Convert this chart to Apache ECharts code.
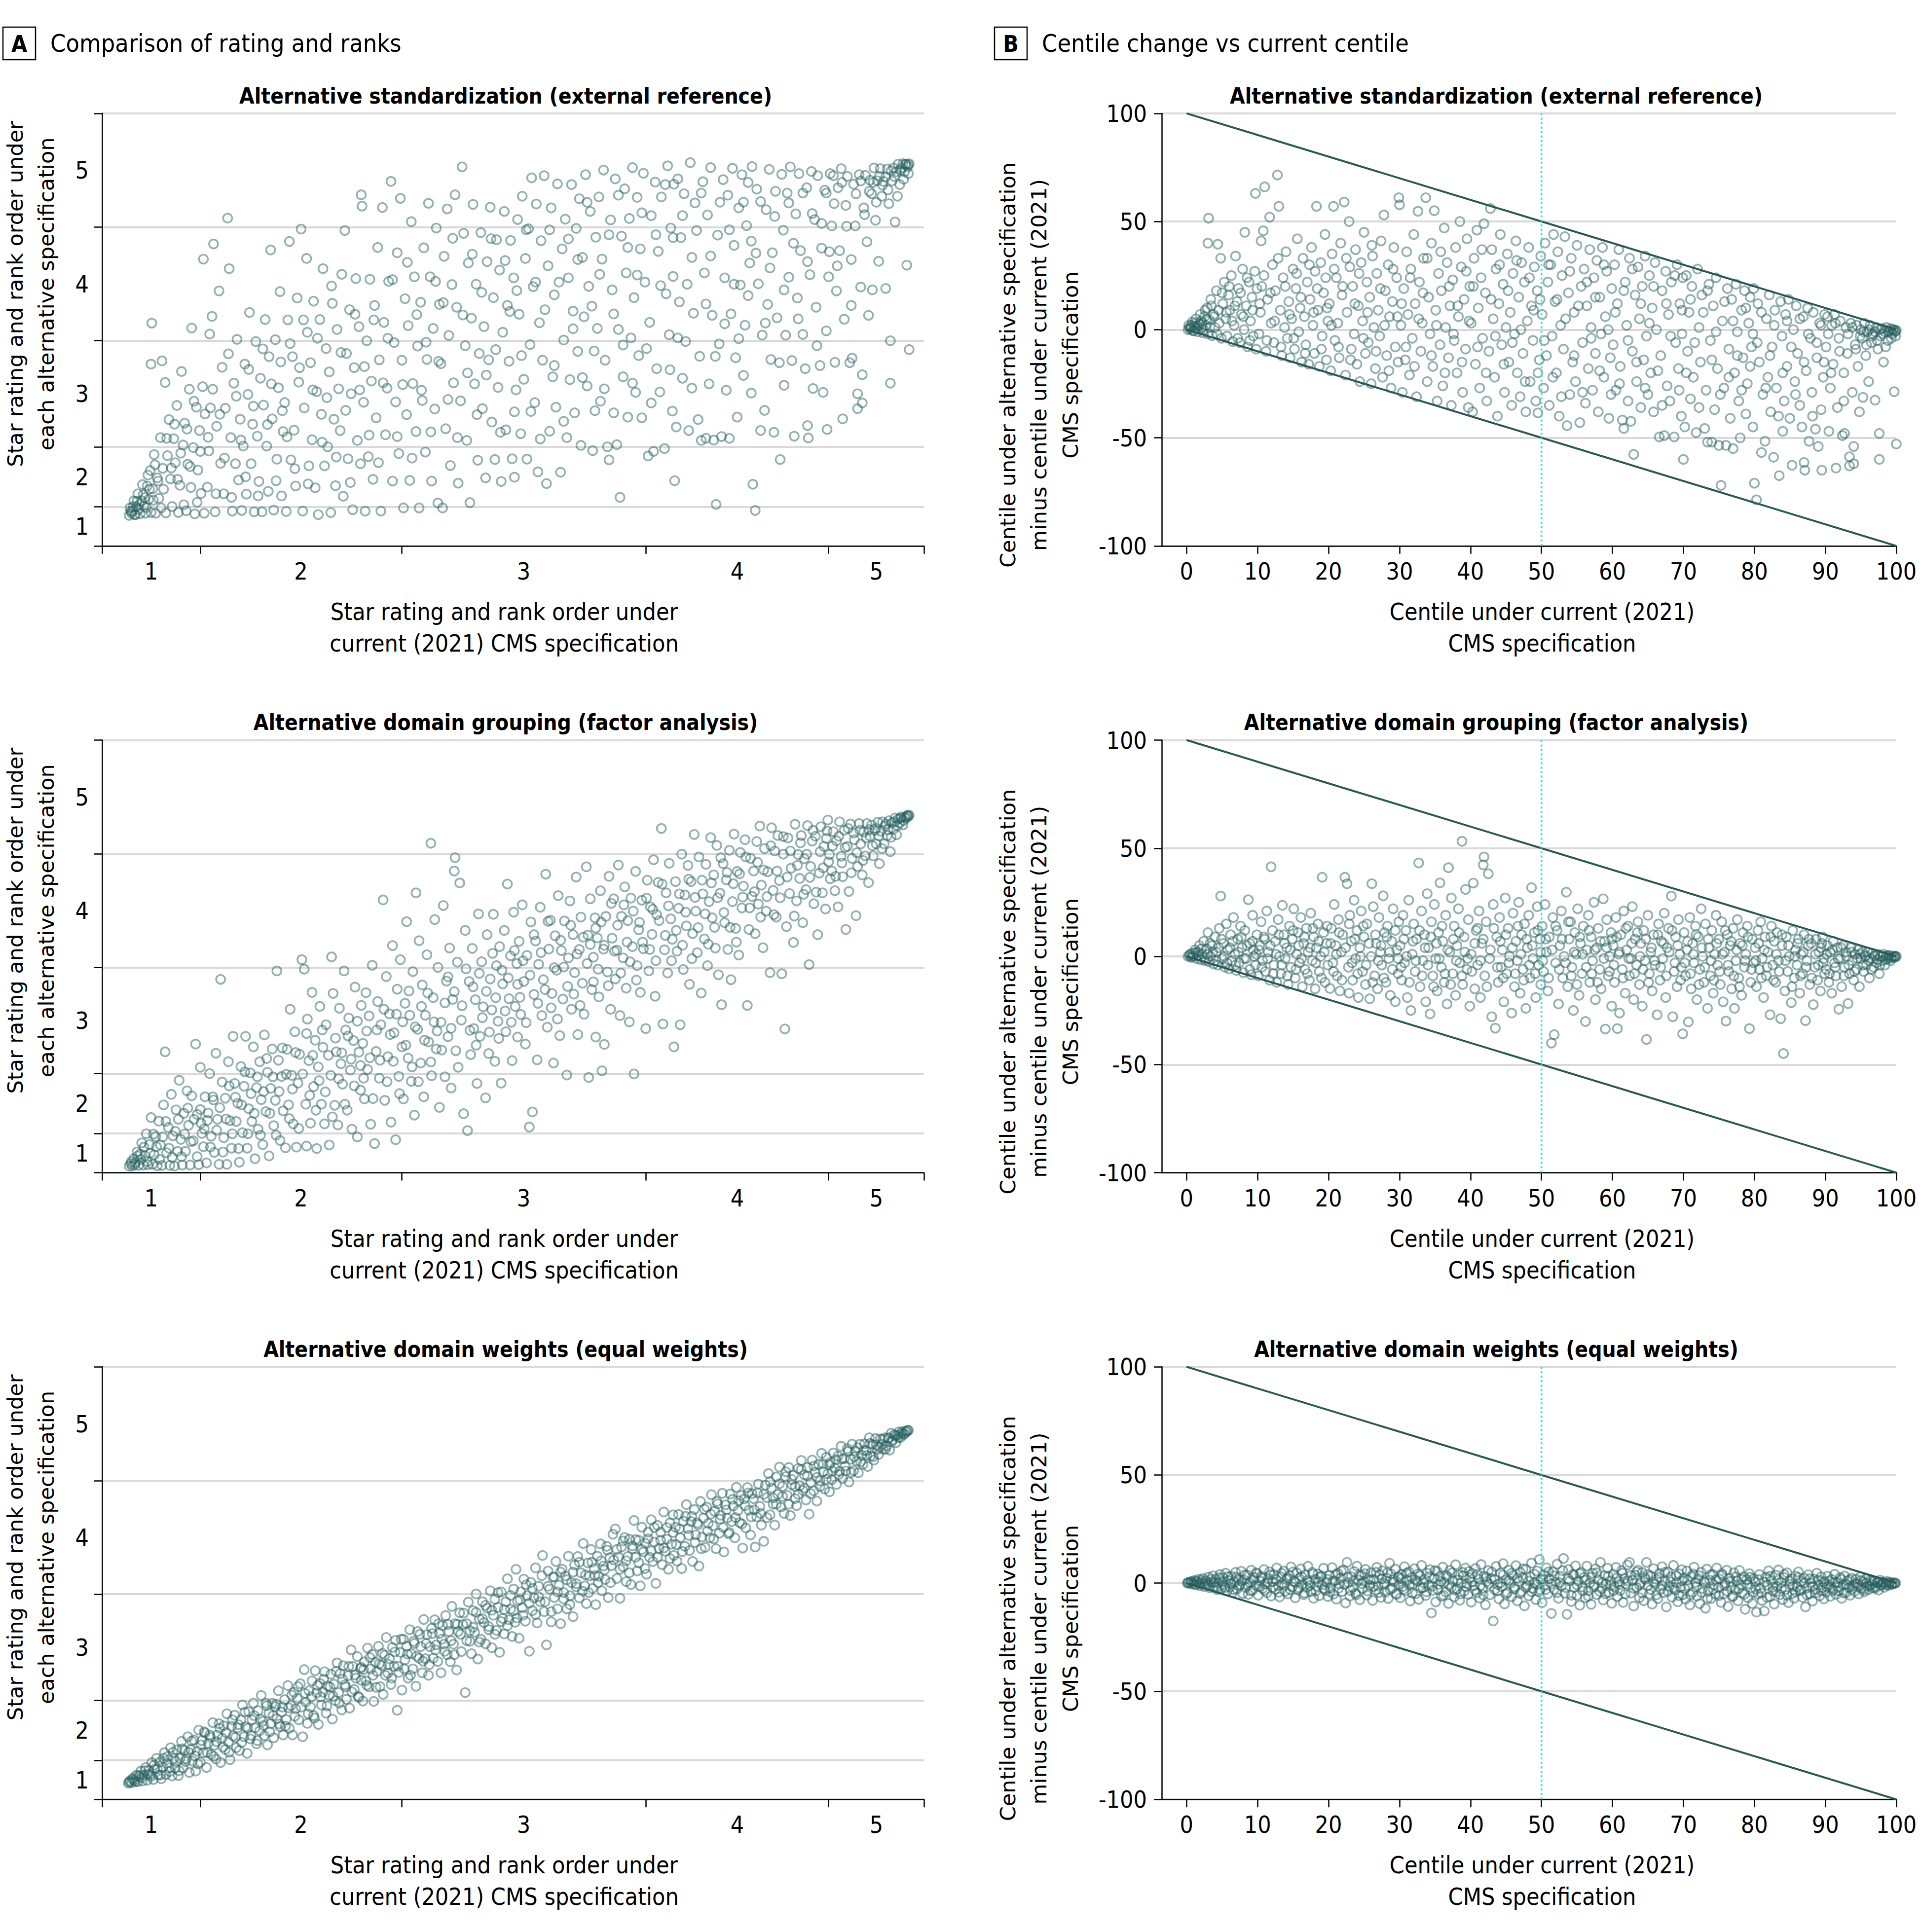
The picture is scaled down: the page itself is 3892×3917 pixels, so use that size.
<!DOCTYPE html>
<html>
<head>
<meta charset="utf-8">
<title>Star rating comparison</title>
<script src="https://cdn.jsdelivr.net/npm/echarts@6/dist/echarts.min.js"></script>
<style>
  html, body { margin: 0; padding: 0; background: #fff; }
  #chart { width: 3892px; height: 3917px; }
</style>
</head>
<body>
<div id="chart"></div>
<script>
// ---- data: each hospital as [centile under current spec, centile change under alternative spec]
var extPoints = [
  [0.2,0],[0.4,1],[0.5,0.3],[0.7,2],[0.9,-0.5],[1.1,1.5],[1.2,3],[1.4,0.5],[1.6,-1],[1.8,2.5],[2,4],[2.1,0.8],[2.3,-1.5],[2.5,6],[2.7,2],[2.9,10],[3,-2],[3.1,51.5],[3.2,4.5],[3,40],[3.4,14],[3.6,-2.8],[3.8,7],[4,1],[4.2,18],[4.4,39.5],[4.6,3],[4.8,33],[4.9,-4],[5.1,12],[5.3,22],[5.5,5],[5.7,-3],[5.9,16],[6.1,9],[6.3,25],[6.5,-5.5],[6.7,2],[6.9,34],[7.1,13],[7.3,19],[7.5,-6],[7.7,7],[7.9,28],[8.1,0],[8.2,45],[8.4,11],[8.6,-8],[8.8,22],[9,4],[9.2,15],[9.4,-3],[9.6,27],[9.8,-9],[9.7,63],
  [0.3,2],[0.6,0.8],[0.8,3.5],[1,-0.6],[1.3,5],[1.5,1.8],[1.9,7],[2.2,3],[2.4,0],[2.6,9],[2.8,4.8],[3.3,1.2],[3.5,11],[3.9,6],[4.3,-2],[4.5,9],[5,17],[5.6,8],[6,20],[6.4,4],[6.8,11],[7.2,-4],[7.6,17],[8,6],[8.5,24],[8.9,-5],[9.3,9],[9.9,19],
  [10.2,-2],[10.5,41],[10.8,45.7],[10.4,8],[10.6,20],[11,66],[11.2,-10],[11.4,14],[11.7,52],[11.9,3],[12.1,30],[12.3,-6],[12.5,18],[12.8,71.5],[13,57],[13.2,9],[13.4,-12],[13.6,24],[13.8,1],[14,36],[14.2,-4],[14.4,13],[14.6,-13],[14.8,5],[15,28],[15.2,-9],[15.4,19],[15.6,42],[15.8,-1],[16,10],[16.2,-15],[16.4,33],[16.6,6],[16.8,-7],[17,22],[17.2,-16],[17.4,14],[17.6,38],[17.8,2],[18,-11],[18.3,57],[18.1,27],[18.5,9],[18.7,-17],[18.9,31],[19.1,-3],[19.3,17],[19.5,44],[19.7,-14],[19.9,4],
  [10.3,12],[10.9,25],[11.3,-5],[11.8,17],[12.4,4],[12.9,33],[13.3,-8],[13.9,20],[14.5,7],[15.1,-4],[15.5,26],[16.1,15],[16.7,-11],[17.3,30],[17.9,8],[18.4,19],[19,-9],[19.6,24],[19.8,10],
  [20.1,12],[20.3,-19],[20.5,35],[20.7,57],[20.9,-5],[21.1,24],[21.3,3],[21.5,-13],[21.7,40],[21.9,16],[22.2,59],[22.4,-21],[22.6,8],[22.9,50],[23,29],[23.2,-9],[23.4,20],[23.6,-2],[23.8,37],[24,-16],[24.2,11],[24.4,-24],[24.6,31],[24.8,4],[25,45],[25.2,-11],[25.4,22],[25.6,-6],[25.8,15],[26,-25],[26.2,34],[26.4,1],[26.6,-18],[26.8,26],[27,9],[27.2,-3],[27.4,41],[27.8,53],[27.6,-22],[28,18],[28.2,-12],[28.4,30],[28.6,6],[28.8,-27],[29,13],[29.2,38],[29.4,-8],[29.6,24],[29.8,-15],[29.9,61],
  [20.4,2],[20.8,28],[21.4,-8],[22,20],[22.5,33],[23.1,-14],[23.7,12],[24.3,26],[24.9,-4],[25.5,8],[26.1,39],[26.7,-10],[27.3,19],[27.9,2],[28.5,-19],[29.1,28],[29.7,6],
  [30,57.7],[30.2,2],[30.4,-29],[30.6,19],[30.8,-14],[31,36],[31.2,7],[31.4,-21],[31.6,28],[31.8,-4],[32,44],[32.2,12],[32.4,-31],[32.6,54.7],[32.8,22],[33,-10],[33.2,3],[33.4,33],[33.7,61],[33.9,-24],[34.1,15],[34.3,-2],[34.5,40],[34.7,-17],[34.9,55],[35.1,9],[35.3,-33],[35.5,26],[35.7,-7],[35.9,18],[36.1,-26],[36.3,47],[36.5,1],[36.7,31],[36.9,-13],[37.1,11],[37.3,-35],[37.5,23],[37.7,-5],[37.9,38],[38.1,-20],[38.5,50],[38.3,6],[38.7,29],[38.9,-29],[39.1,14],[39.3,-9],[39.5,42],[39.7,-36],[39.9,20],
  [30.3,12],[30.9,-8],[31.5,24],[32.1,-17],[32.7,5],[33.3,17],[33.9,33],[34.5,-12],[35.2,2],[35.8,36],[36.4,-20],[37,20],[37.6,-2],[38.2,11],[38.8,-15],[39.4,27],[39.8,4],
  [40.1,3],[40.3,-38],[40.5,33],[40.7,-16],[40.9,46],[41.1,10],[41.3,-27],[41.5,24],[41.7,-4],[41.9,49],[42.1,17],[42.3,-33],[42.8,56],[42.6,-10],[43,37],[43.2,5],[43.4,-22],[43.6,28],[43.8,-40],[44,12],[44.2,44],[44.4,-7],[44.6,21],[44.8,-29],[45,1],[45.2,35],[45.4,-15],[45.6,8],[45.8,-35],[46,26],[46.2,-2],[46.4,41],[46.6,-20],[46.8,15],[47,-31],[47.2,31],[47.4,-11],[47.6,22],[47.8,-38],[48,4],[48.2,38],[48.4,-24],[48.6,11],[48.8,-5],[49,29],[49.2,-33],[49.4,18],[49.5,-38.5],[49.7,-14],[49.9,34],
  [40.4,20],[41,-8],[41.6,37],[42.2,-20],[42.9,14],[43.5,-3],[44.1,30],[44.7,-16],[45.3,18],[45.9,-6],[46.5,32],[47.1,0],[47.7,-24],[48.3,24],[48.9,9],[49.5,-20],[49.8,14],
  [50.1,7],[50.3,-27],[50.5,40],[50.7,-12],[50.9,22],[51.1,-35],[51.3,30],[51.5,-3],[51.7,44],[51.9,13],[52.1,-20],[52.3,36],[52.5,-40],[52.7,2],[52.9,25],[53.1,-9],[53.3,43],[53.6,-44.4],[53.8,17],[54,-30],[54.2,33],[54.4,-15],[54.6,8],[54.8,-24],[55,39],[55.4,-43],[55.6,20],[55.8,-6],[56,28],[56.2,-34],[56.4,11],[56.6,-18],[56.8,37],[57,1],[57.2,-28],[57.4,24],[57.6,-11],[57.8,32],[58,-38],[58.2,15],[58.4,-2],[58.6,38],[58.8,-22],[59,6],[59.2,27],[59.5,-41],[59.7,-13],[59.9,19],
  [50.4,-5],[51,30],[51.6,-22],[52.2,14],[52.8,-31],[53.4,5],[54,27],[54.6,-12],[55.2,11],[55.8,-29],[56.4,22],[57,-4],[57.6,15],[58.2,-19],[58.8,30],[59.4,0],[59.8,-30],
  [60.1,-7],[60.3,30],[60.5,-28],[60.7,12],[60.9,37],[61.1,-17],[61.4,-41.8],[61.6,-45.7],[61.8,22],[62,2],[62.2,-33],[62.4,33],[62.6,-42.4],[62.8,-10],[63,-57.7],[63.2,16],[63.4,-24],[63.6,29],[63.8,5],[64,-36],[64.2,20],[64.4,-14],[64.6,34],[64.8,-3],[65,-30],[65.2,25],[65.4,-20],[65.6,10],[65.8,-38],[66,31],[66.2,0],[66.6,-49.6],[66.8,-12],[67,18],[67.3,-49],[67.5,27],[67.7,-26],[67.9,7],[68.1,-33],[68.3,22],[68.7,-49.6],[68.9,-6],[69.1,30],[69.3,-18],[69.5,12],[69.7,-40],[69.9,24],[69.8,-2],
  [60.4,8],[61,-25],[61.6,18],[62.2,-5],[62.8,28],[63.4,-15],[64,12],[64.6,-27],[65.2,3],[65.8,20],[66.4,-19],[67,-35],[67.6,12],[68.2,-3],[68.8,25],[69.4,-28],[69.8,9],
  [70.2,-45],[70,-60],[70.4,25],[70.6,-10],[70.8,8],[71,-32],[71.2,20],[71.4,-22],[71.8,-47.6],[72,28],[72.2,1],[72.4,-15],[72.6,16],[73,-45.7],[73.2,-28],[73.4,-52],[73.6,21],[73.8,-5],[74,-52],[74.2,11],[74.4,-37],[74.6,24],[74.8,-18],[75,-53.5],[75.3,-72],[75.5,4],[75.7,-27],[76,-53.5],[76.2,19],[76.4,-9],[76.6,-41],[76.8,14],[77,-55],[77.2,-20],[77.4,21],[77.6,-1],[77.8,-33],[78,-50],[78.2,9],[78.4,-13],[78.6,18],[78.8,-39],[79,-25],[79.2,3],[79.4,15],[79.6,-8],[79.8,-45],[79.9,19],
  [70.4,-20],[71,14],[71.6,-6],[72.2,-36],[72.8,8],[73.4,18],[74,-14],[74.6,-1],[75.2,-30],[75.8,13],[76.4,-22],[77,4],[77.6,-12],[78.2,-28],[78.8,10],[79.4,-17],[79.8,-2],
  [80,-71],[80.3,-78.7],[80.5,12],[80.7,-15],[81,-56.8],[81.2,-30],[81.5,-51.6],[81.7,5],[81.9,-22],[82.1,16],[82.3,-38],[82.5,-8],[82.7,-59],[82.9,9],[83.1,-27],[83.5,-67.5],[83.7,13],[83.9,-3],[84,-47],[84.2,-33],[84.4,7],[84.6,-17],[84.8,14],[85,-41],[85.3,-62.7],[85.5,0],[85.7,-24],[85.9,11],[86.1,-11],[86.4,-35],[86.7,-45],[86.9,6],[87,-61.4],[87.1,-65],[87.3,-19],[87.5,10],[87.7,-51.6],[87.9,-4],[88.1,-29],[88.3,8],[88.6,-46],[88.8,-13],[89,-54],[89.2,3],[89.5,-65],[89.7,-22],[89.9,7],[89.4,-37],
  [80.4,-6],[81,8],[81.6,-27],[82.2,-12],[82.8,2],[83.4,-40],[84,-20],[84.6,4],[85.2,-8],[85.8,-30],[86.4,5],[87,-15],[87.6,-2],[88.2,-40],[88.8,-6],[89.4,2],[89.8,-15],
  [90.1,-8],[90.3,6],[90.5,-47],[90.7,-27],[90.9,2],[91.1,-16],[91.3,7],[91.5,-64],[91.7,-36],[91.9,-4],[92.1,4],[92.4,-49],[92.7,-48],[92.6,-20],[92.9,1],[93.1,-11],[93.4,-63],[93.4,-58.8],[93.6,3],[93.8,-29],[94,-62],[94,-54],[94.2,-7],[94.4,2],[94.6,-17],[94.8,-38],[95,0],[95.2,-4],[95.3,-31.3],[95.5,3],[95.7,-12],[95.9,-1],[96.1,-24],[96.3,2],[96.5,-6],[96.7,-2],[97,-32.6],[97.2,1],[97.4,-9],[97.6,-60],[97.6,-48],[97.8,-3],[98,0.5],[98.2,-15],[98.4,-1],[98.6,1],[98.8,-5],[99,-0.5],[99.2,0.5],[99.4,-2],[99.6,0],[99.7,-28.7],[99.8,-1],[100,-0.3],[100,-52.9],[99.9,-3],
  [90.4,-2],[90.8,-20],[91.4,3],[92,-10],[92.6,-33],[93.2,-2],[93.8,1],[94.3,-9],[94.9,-3],[95.4,-1],[95.8,-7],[96.2,0],[96.6,-3],[97,-1],[97.3,-5],[97.7,0],[98.1,-2],[98.5,-8],[98.9,-1],[99.3,-4],[99.5,0],[99.9,-0.5]
];

var factPoints = [
  [0.2,0],[0.4,0.5],[0.6,-0.4],[0.8,1.5],[1,0.2],[1.2,3],[1.4,-1],[1.6,2],[1.8,5],[2,-1.5],[2.2,1],[2.4,7],[2.6,-2],[2.8,3.5],[3,11],[3.2,-2.5],[3.4,0],[3.6,5],[3.8,-3.5],[4,9],[4.2,2],[4.4,-4],[4.6,13],[4.8,27.9],[5,-1],[5.2,6],[5.4,-5],[5.6,15],[5.8,3],[6,-5.8],[6.2,10],[6.4,-2],[6.6,18],[6.8,1],[7,-6.5],[7.2,8],[7.4,-3],[7.6,14],[7.8,4],[8,-7.5],[8.2,12],[8.4,-1],[8.7,26.2],[8.9,6],[9.1,-8.5],[9.3,19],[9.5,0],[9.7,-4],[9.9,10],[9.4,3],
  [0.5,1],[0.9,-0.3],[1.3,1.8],[1.7,0.4],[2.1,3.5],[2.5,-1],[2.9,1],[3.3,6],[3.7,2],[4.1,-2],[4.5,4],[4.9,8],[5.3,0],[5.7,-3],[6.1,4],[6.5,7],[6.9,-4],[7.3,2],[7.7,9],[8.1,-1],[8.5,5],[8.9,-6],[9.3,7],[9.8,1],
  [10.1,-9],[10.3,5],[10.5,16],[10.7,-2],[10.9,9],[11.1,-7],[11.3,21],[11.5,2],[11.7,-11],[11.9,41.4],[12.1,12],[12.3,-4],[12.5,7],[12.7,-12],[12.9,17],[13.1,0],[13.5,23.6],[13.3,-8],[13.7,10],[13.9,-1],[14.1,4],[14.3,-13],[14.5,14],[14.7,-5],[14.9,8],[15.1,22],[15.3,-10],[15.5,1],[15.7,11],[15.9,-3],[16.1,18],[16.3,-14],[16.5,6],[16.7,-6],[16.9,13],[17.1,2],[17.3,-11],[17.5,20],[17.7,-2],[17.9,9],[18.1,-15],[18.3,4],[18.5,15],[18.7,-7],[18.9,0],[19.1,36.6],[19.3,11],[19.5,-12],[19.7,6],[19.9,-4],
  [10.2,3],[10.6,-5],[11,8],[11.4,-1],[11.8,5],[12.2,-8],[12.6,1],[13,10],[13.4,-4],[13.8,6],[14.2,-9],[14.6,3],[15,12],[15.4,-6],[15.8,5],[16.2,-1],[16.6,9],[17,-8],[17.4,4],[17.8,13],[18.2,-3],[18.6,7],[19,-10],[19.4,2],[19.8,14],
  [20.2,-14.8],[20.4,13],[20.6,-3],[20.8,24],[21,5],[21.2,-9],[21.4,17],[21.6,-16],[21.8,2],[22,10],[22.3,36.6],[22.6,33.6],[22.9,-17],[22.8,-5],[23,19],[23.2,7],[23.4,-11],[23.6,26],[23.8,-1],[24,12],[24.2,-19],[24.4,4],[24.6,21],[24.8,-7],[25,9],[25.2,-13],[25.4,15],[25.8,-19.6],[26.1,33.6],[26,0],[26.3,23],[26.5,-9],[26.7,6],[26.9,-15],[27.1,18],[27.3,2],[27.5,-4],[27.7,28],[27.9,11],[28.1,-12],[28.3,14],[28.5,-1],[28.7,-18],[28.9,7],[29.1,22],[29.4,-20.9],[29.6,3],[29.8,-8],[29.9,16],
  [20.3,6],[20.7,-7],[21.1,1],[21.5,11],[21.9,-11],[22.4,4],[22.9,15],[23.3,-3],[23.7,8],[24.1,-8],[24.5,0],[24.9,14],[25.3,-4],[25.7,6],[26.2,-12],[26.6,10],[27,-2],[27.4,5],[27.8,-10],[28.2,9],[28.6,2],[29,-6],[29.4,12],[29.8,-1],
  [30.1,5],[30.3,-11],[30.5,19],[30.7,-3],[30.9,12],[31.1,-19],[31.3,26],[31.6,-25],[31.8,1],[32,15],[32.2,-7],[32.4,8],[32.7,43.2],[32.9,-14],[33.1,21],[33.3,-2],[33.5,10],[33.7,-21],[33.9,29],[34.1,4],[34.3,-26.6],[34.5,16],[34.7,-9],[34.9,24],[35.1,-1],[35.3,-16],[35.5,11],[35.7,34],[35.9,-5],[36.1,7],[36.3,-12],[36.5,19],[36.9,41],[36.7,-22],[37.1,2],[37.3,27],[37.5,-8],[37.7,14],[37.9,-18],[38.1,5],[38.3,22],[38.5,-3],[38.8,53.2],[38.9,-13],[39.1,9],[39.3,31],[39.5,-6],[39.7,17],[39.9,-23],
  [30.2,-5],[30.6,8],[31,0],[31.4,-12],[31.9,7],[32.3,-2],[32.8,12],[33.2,-9],[33.6,4],[34,-4],[34.4,9],[34.8,-14],[35.2,6],[35.6,-1],[36,14],[36.4,-8],[36.8,3],[37.2,-13],[37.6,8],[38,-2],[38.4,11],[38.8,-9],[39.2,2],[39.6,-1],
  [40.1,1],[40.4,33.9],[40.6,-15],[40.8,12],[41,-4],[41.2,21],[41.4,-19],[41.6,6],[41.9,46],[41.8,42.3],[42,-9],[42.2,16],[42.5,38.2],[42.7,-1],[43,-27.9],[43.2,24],[43.5,-33.2],[43.7,9],[43.9,-12],[44.1,18],[44.3,-5],[44.5,3],[44.7,-21],[44.9,27],[45.1,-8],[45.3,13],[45.5,0],[45.8,-26.2],[46,20],[46.2,-14],[46.4,7],[46.6,-2],[46.8,25],[47,-17],[47.2,10],[47.4,-6],[47.6,15],[47.8,-24],[48,4],[48.2,19],[48.4,-10],[48.6,31.8],[48.8,-1],[49,11],[49.2,-19],[49.4,23],[49.6,-4],[49.8,8],[49.9,-13],
  [40.2,-7],[40.6,6],[41,13],[41.4,-2],[41.8,8],[42.3,-14],[42.8,3],[43.3,13],[43.8,-5],[44.2,7],[44.6,-10],[45,10],[45.4,-3],[45.9,4],[46.3,-8],[46.7,14],[47.1,1],[47.5,-11],[47.9,8],[48.3,-4],[48.7,5],[49.1,-8],[49.5,12],[49.9,2],
  [50.1,14],[50.3,-7],[50.5,24],[50.7,2],[50.9,-16],[51.1,9],[51.4,-40.1],[51.8,-36.2],[51.6,18],[52,-3],[52.2,12],[52.4,-22],[52.6,5],[52.8,21],[53,-10],[53.2,0],[53.5,29.7],[53.7,-14],[53.9,8],[54.1,16],[54.3,-5],[54.5,-25],[54.7,11],[54.9,1],[55.1,22],[55.3,-18],[55.5,6],[55.7,-8],[55.9,14],[56.2,-30.1],[56.4,3],[56.6,19],[56.8,-12],[57,9],[57.2,-2],[57.4,25],[57.6,-20],[57.8,4],[58,13],[58.2,-6],[58.4,-15],[58.7,26.6],[58.9,7],[59,-33.6],[59.2,17],[59.4,-9],[59.6,0],[59.8,11],[59.9,-23],
  [50.2,-2],[50.6,8],[51,-10],[51.5,3],[52,14],[52.5,-6],[52.9,8],[53.4,-3],[53.8,16],[54.2,-9],[54.6,2],[55,-13],[55.4,9],[55.8,1],[56.3,-5],[56.7,12],[57.1,-8],[57.5,3],[57.9,-12],[58.3,7],[58.8,-1],[59.2,4],[59.6,-7],[59.9,8],
  [60.1,5],[60.3,-12],[60.5,18],[60.7,-33.4],[60.9,1],[61,-26.2],[61.2,10],[61.4,-6],[61.6,21],[61.8,-17],[62,3],[62.2,14],[62.4,-9],[62.6,-1],[62.8,23],[63,-20],[63.2,8],[63.4,-4],[63.6,16],[63.8,-13],[64,6],[64.2,-23],[64.4,12],[64.8,-38.4],[64.6,-2],[65,19],[65.2,-8],[65.4,2],[65.6,-16],[65.8,10],[66,-4],[66.3,-27],[66.5,15],[66.7,-11],[66.9,7],[67.1,-1],[67.3,20],[67.5,-19],[67.7,4],[67.9,13],[68.3,27.9],[68.5,-27.9],[68.7,-7],[68.9,9],[69.1,-14],[69.3,17],[69.5,1],[69.9,-35.8],[69.7,-5],
  [60.2,-4],[60.6,9],[61,2],[61.5,-10],[61.9,13],[62.3,-1],[62.7,6],[63.1,-8],[63.5,11],[63.9,0],[64.3,-6],[64.7,8],[65.1,-12],[65.5,4],[65.9,-2],[66.4,10],[66.8,-5],[67.2,6],[67.6,-9],[68,2],[68.4,12],[68.8,-3],[69.2,5],[69.6,-11],
  [70.1,11],[70.3,-9],[70.7,-30.3],[70.5,3],[70.9,18],[71.1,-15],[71.3,6],[71.5,-3],[71.7,14],[71.9,-20],[72.1,9],[72.3,-6],[72.5,22],[72.7,0],[72.9,-12],[73.1,15],[73.4,-24],[73.6,4],[73.8,-9],[74,12],[74.2,-17],[74.4,1],[74.6,19],[74.8,-4],[75,8],[75.2,-13],[75.4,16],[75.6,-21],[76,-29.9],[75.8,2],[76.2,10],[76.4,-7],[76.6,5],[76.8,-15],[77.2,-24],[77,13],[77.4,-2],[77.6,17],[77.8,-10],[78,6],[78.2,-18],[78.4,11],[78.6,-5],[78.8,1],[79,14],[79.3,-33.4],[79.5,-12],[79.7,8],[79.9,-3],
  [70.2,-3],[70.6,7],[71,-8],[71.4,1],[71.8,10],[72.2,-13],[72.6,4],[73,-5],[73.5,8],[73.9,-2],[74.3,-11],[74.7,6],[75.1,-7],[75.5,1],[75.9,12],[76.3,-4],[76.7,7],[77.1,-9],[77.5,3],[77.9,-14],[78.3,5],[78.7,-2],[79.1,9],[79.6,-6],
  [80.1,4],[80.3,-14],[80.5,12],[80.7,-6],[80.9,16],[81.1,-1],[81.3,-19],[81.5,9],[81.7,-9],[81.9,2],[82.2,-27],[82.4,14],[82.6,-4],[82.8,7],[83,-12],[83.2,11],[83.4,-2],[83.7,-28.8],[83.9,5],[84.1,-44.9],[84.3,-16],[84.5,9],[84.7,-7],[84.9,0],[85.2,-21.4],[85.4,12],[85.6,-10],[85.8,3],[86,-4],[86.2,8],[86.4,-17],[86.6,1],[86.8,-8],[87,10],[87.2,-29.7],[87.4,-2],[87.6,5],[87.8,-13],[88,6],[88.3,-22.3],[88.5,-5],[88.7,8],[88.9,-11],[89.1,2],[89.3,-16],[89.5,6],[89.7,-3],[89.9,-8],[89.6,9],
  [80.2,-2],[80.6,6],[81,-10],[81.4,3],[81.8,-5],[82.3,9],[82.7,-11],[83.1,1],[83.5,-7],[83.9,10],[84.4,-2],[84.8,5],[85.3,-14],[85.7,0],[86.1,6],[86.5,-9],[86.9,2],[87.3,-5],[87.7,8],[88.1,-10],[88.6,1],[89,-4],[89.4,4],[89.8,-1],
  [90.1,-6],[90.3,5],[90.5,-12],[90.7,2],[90.9,-17],[91.1,7],[91.3,-3],[91.5,-9],[91.7,4],[91.9,-24.4],[92.1,-1],[92.3,-14],[92.5,5],[92.7,-5],[92.9,2],[93.2,-21.8],[93.4,-8],[93.6,4],[93.8,-2],[94,-11],[94.2,1],[94.4,-6],[94.6,3],[94.8,-14],[95,-1],[95.2,2],[95.4,-7],[95.6,0],[95.8,-4],[96,2],[96.2,-10],[96.4,-1],[96.6,1.5],[96.8,-5],[97,0.5],[97.2,-3],[97.4,1],[97.6,-8],[97.8,0],[98,-2],[98.2,1],[98.4,-4],[98.6,0.3],[98.8,-1],[99,0.5],[99.2,-2],[99.4,0],[99.6,-0.5],[99.8,0.2],[100,0],
  [90.2,1],[90.6,-8],[91,3],[91.4,-5],[91.8,-1],[92.2,4],[92.6,-9],[93,0],[93.3,-4],[93.7,2],[94.1,-7],[94.5,-1],[94.9,1],[95.3,-4],[95.7,0.5],[96.1,-2],[96.5,-6],[96.9,0],[97.3,-1.5],[97.7,-4],[98.1,0],[98.5,-1.5],[98.9,0.2],[99.3,-0.8],[99.7,0],[99.9,-0.3]
];

var equalPoints = [
  [0.1,0],[0.3,0.4],[0.5,-0.3],[0.7,0.8],[0.9,0],[1.1,1.2],[1.3,-0.8],[1.5,0.5],[1.7,1.8],[1.9,-1.2],[2.1,0.3],[2.3,2.2],[2.5,-1.6],[2.7,1],[2.9,-0.4],[3.1,2.8],[3.3,-2.2],[3.5,0.6],[3.7,3.4],[3.9,-1.5],[4.1,1.9],[4.3,-3],[4.5,0],[4.7,4],[4.9,-2.4],[5.1,2.5],[5.3,-0.9],[5.5,4.6],[5.7,-3.6],[5.9,1.2],[6.1,-1.8],[6.3,3.2],[6.5,-4.3],[6.7,0.4],[6.9,5],[7.1,-2.7],[7.3,2],[7.5,-0.5],[7.7,5.5],[7.9,-4.8],[8.1,1.5],[8.3,-2],[8.5,3.8],[8.7,-5.2],[8.9,0.2],[9.1,6],[9.3,-3.3],[9.5,2.6],[9.7,-1],[9.9,4.4],
  [0.2,0.2],[0.6,0.5],[1,-0.5],[1.4,0.9],[1.8,-0.2],[2.2,1.4],[2.6,0],[3,-1],[3.4,1.8],[3.8,0.3],[4.2,-1.8],[4.6,2.5],[5,0.7],[5.4,-2],[5.8,3],[6.2,0],[6.6,-3],[7,2.8],[7.4,-1.2],[7.8,1],[8.2,3.8],[8.6,-0.8],[9,-3.5],[9.4,1.5],[9.8,4.8],
  [10.1,-5.6],[10.3,1],[10.5,3.2],[10.7,-2.5],[10.9,6.3],[11.1,-0.3],[11.3,-4.4],[11.5,2.2],[11.7,5.2],[11.9,-6],[12.1,0.7],[12.3,4],[12.5,-2.9],[12.7,7],[12.9,-1.2],[13.1,-6.4],[13.3,2.9],[13.5,-0.1],[13.7,5.6],[13.9,-3.8],[14.1,1.6],[14.3,-5],[14.5,3.5],[14.7,7.5],[14.9,-1.7],[15.1,0.9],[15.3,-6.8],[15.5,4.8],[15.7,-3.1],[15.9,2.1],[16.1,6.6],[16.3,-0.6],[16.5,-5.3],[16.7,3.9],[16.9,-2],[17.1,7.8],[17.3,0.3],[17.5,-4],[17.7,5],[17.9,-7],[18.1,1.8],[18.3,-1.4],[18.5,4.2],[18.7,-5.8],[18.9,2.8],[19.1,-0.8],[19.3,6.9],[19.5,-3.4],[19.7,0.5],[19.9,-6.2],
  [10.2,-1.5],[10.6,2.5],[11,-3.3],[11.4,0.4],[11.8,3.8],[12.2,-1.9],[12.6,1.8],[13,-4.2],[13.4,4.6],[13.8,-0.8],[14.2,2.4],[14.6,-3],[15,5.2],[15.4,0.2],[15.8,-2.2],[16.2,3],[16.6,-4.5],[17,1.2],[17.4,-1],[17.8,4.2],[18.2,-3.6],[18.6,0.6],[19,3.4],[19.4,-2.6],[19.8,1.8],
  [20.1,3.6],[20.3,-2.2],[20.5,7.2],[20.7,-5.1],[20.9,1.1],[21.1,-7.4],[21.3,4.5],[21.5,-0.4],[21.7,2.4],[21.9,-3.9],[22.1,6.1],[22.4,-9.2],[22.6,9.6],[22.8,0.2],[23,-6],[23.2,3],[23.4,-1.8],[23.6,5.4],[23.8,-4.6],[24,7.9],[24.2,1.4],[24.4,-7.7],[24.6,3.7],[24.8,-2.6],[25,0.8],[25.2,6.4],[25.4,-5.5],[25.6,2],[25.8,-0.9],[26,4.9],[26.2,-8],[26.4,1.7],[26.6,-3.2],[26.8,7.3],[27,-1.3],[27.2,3.9],[27.4,-6.6],[27.6,5.7],[27.8,0.1],[28,-4.2],[28.2,2.3],[28.4,-7.1],[28.6,9.2],[28.8,4.3],[29,-2.4],[29.2,0.6],[29.4,6.5],[29.6,-5.3],[29.8,2.7],[29.9,-0.7],
  [20.2,-4],[20.6,0.8],[21,4],[21.4,-2.4],[21.8,5.6],[22.2,-0.6],[22.7,2.8],[23.1,-3.4],[23.5,1],[23.9,-5.4],[24.3,3.4],[24.7,-0.2],[25.1,4.4],[25.5,-3.6],[25.9,1.4],[26.3,-1.6],[26.7,5],[27.1,-4.4],[27.5,2],[27.9,-0.6],[28.3,4.8],[28.7,-2.8],[29.1,1.6],[29.5,-4.8],[29.9,3],
  [30.1,-6.8],[30.3,4.1],[30.5,-1.5],[30.7,7.6],[30.9,-3.6],[31.1,1.3],[31.3,5.2],[31.5,-8.3],[31.7,2.6],[31.9,-0.2],[32.1,6.7],[32.3,-4.9],[32.5,0.9],[32.7,-7.5],[32.9,3.4],[33.1,8.2],[33.3,-2.1],[33.5,1.8],[33.7,-5.7],[33.9,4.6],[34.1,-1],[34.3,6.2],[34.5,-13.8],[34.7,-3.3],[34.9,2.2],[35.1,-8.7],[35.3,5.5],[35.5,-0.5],[35.7,3.1],[35.9,-6.1],[36.1,7.4],[36.3,0.4],[36.5,-4.1],[36.7,2.9],[36.9,-9.4],[37.1,5.9],[37.3,-1.9],[37.5,1.2],[37.7,-6.4],[37.9,8.5],[38.1,-2.8],[38.3,3.8],[38.5,-7.9],[38.7,0],[38.9,5],[39.1,-3.7],[39.3,7],[39.5,-0.3],[39.7,-5.2],[39.9,2.5],
  [30.2,2],[30.6,-2.8],[31,4.6],[31.4,-0.8],[31.8,-4.6],[32.2,1.6],[32.6,4.2],[33,-2.4],[33.4,0.2],[33.8,-4],[34.2,3],[34.6,-1.4],[35,5.8],[35.4,-3],[35.8,0.8],[36.2,-5.6],[36.6,3.6],[37,-1],[37.4,4.8],[37.8,-3.2],[38.2,1.4],[38.6,-5],[39,3.4],[39.4,-1.6],[39.8,5.4],
  [40.1,-8.8],[40.3,4.4],[40.5,-1.1],[40.7,6.8],[40.9,-4.5],[41.1,1.9],[41.3,-6.9],[41.5,8.6],[41.7,-2.3],[41.9,3.3],[42.1,-10],[42.3,0.7],[42.5,5.8],[42.7,-5.4],[42.9,2.1],[43.2,-17.5],[43.4,-3],[43.6,7.7],[43.8,-0.6],[44,-7.3],[44.2,4.7],[44.4,-1.6],[44.6,9],[44.8,-9.6],[45,1.5],[45.2,-4.4],[45.4,6],[45.6,-0.1],[45.8,-6.3],[46,3.6],[46.2,-2.7],[46.4,8.1],[46.6,-8.2],[46.8,0.8],[47,5.1],[47.2,-3.9],[47.4,2.4],[47.6,-10.5],[47.8,6.4],[48,-1.3],[48.2,-5.9],[48.4,3],[48.6,9.3],[48.8,-2.5],[49,0.3],[49.2,-7.6],[49.4,5.6],[49.7,10.9],[49.6,-4],[49.9,1.7],
  [40.2,0.6],[40.6,-3.2],[41,4],[41.4,-1],[41.8,-5.4],[42.2,2.8],[42.6,-0.4],[43,5.2],[43.4,1.8],[43.8,-3.6],[44.2,0],[44.6,3.8],[45,-5],[45.4,1.2],[45.8,4.6],[46.2,-1.8],[46.6,2.4],[47,-4.8],[47.4,6.6],[47.8,-2],[48.2,1],[48.6,-4],[49,4.2],[49.4,-0.6],[49.8,-3],
  [50.1,-9],[50.3,3.9],[50.5,-0.8],[50.7,7.1],[50.9,-5],[51.1,2],[51.4,-14],[51.6,5.3],[51.8,-2.9],[52,0.5],[52.2,8.8],[52.4,-7],[52.6,3.2],[52.8,-1.4],[53.1,11.4],[53.3,-4.7],[53.6,-14.4],[53.8,6.3],[54,1],[54.2,-8.5],[54.4,4],[54.6,-2],[54.8,8],[55,-5.6],[55.2,0.9],[55.4,-10.2],[55.6,5],[55.8,-1.8],[56,2.7],[56.2,-6.8],[56.4,7.9],[56.6,-3.5],[56.8,0],[57,-9.8],[57.2,4.6],[57.4,-0.9],[57.6,6.6],[57.8,-5.3],[58,1.6],[58.3,9.6],[58.5,-2.6],[58.7,-7.8],[58.9,3.5],[59.1,-0.4],[59.3,6.9],[59.5,-4.3],[59.7,1.1],[59.9,-9.3],
  [50.2,1.8],[50.6,-3],[51,5.2],[51.4,-0.4],[51.8,3.4],[52.2,-4.4],[52.6,0.2],[53,5.8],[53.4,-2],[53.8,2],[54.2,-5.6],[54.6,3.8],[55,-0.8],[55.4,4.4],[55.8,-3.6],[56.2,1.4],[56.6,-6],[57,2.8],[57.4,-1.8],[57.8,4.8],[58.2,-3.8],[58.6,0.4],[59,-5],[59.4,3.2],[59.8,-1],
  [60.1,4.2],[60.3,-1.7],[60.5,7.3],[60.7,-6.2],[60.9,0.6],[61.1,-3.4],[61.3,5.8],[61.5,-8.9],[61.7,2.2],[61.9,-0.3],[62.1,8.4],[62.4,9.6],[62.6,-4.6],[62.8,1.3],[63,-10.6],[63.2,3.7],[63.4,-2.1],[63.6,6],[63.8,-6.7],[64,0.2],[64.2,4.9],[64.4,-8.1],[64.6,2.6],[64.8,9.6],[65,-1],[65.2,-5.1],[65.4,3.4],[65.6,-9.7],[65.8,6.7],[66,-0.5],[66.2,1.8],[66.4,-7.2],[66.6,4.5],[66.8,-2.8],[67,7.6],[67.2,-4.4],[67.4,0.9],[67.6,-11],[67.8,5.2],[68,-1.5],[68.2,2.9],[68.4,-6.5],[68.6,8.2],[68.8,-3.1],[69,0.1],[69.2,-8.6],[69.4,4.3],[69.6,-1.9],[69.8,6.2],[69.9,-5.4],
  [60.2,-3.4],[60.6,2.4],[61,-0.6],[61.4,4.6],[61.8,-5],[62.2,1],[62.6,3.6],[63,-2.4],[63.4,5.2],[63.8,-0.8],[64.2,-4.6],[64.6,1.8],[65,4],[65.4,-3],[65.8,0.4],[66.2,-5.4],[66.6,2.6],[67,-1.2],[67.4,5],[67.8,-3.8],[68.2,0.6],[68.6,-2],[69,3.4],[69.4,-5.8],[69.8,1.2],
  [70.1,2.4],[70.3,-7.4],[70.5,5.6],[70.7,-1.2],[70.9,-10.1],[71.1,3.1],[71.3,-4.2],[71.5,7.4],[71.7,0.4],[71.9,-6],[72.1,2],[72.3,-9.5],[72.5,5],[72.7,-2.4],[72.9,0.8],[73.1,-11.6],[73.3,6.5],[73.5,-3.8],[73.7,1.4],[73.9,-7.1],[74.1,4.1],[74.3,-0.7],[74.5,-5],[74.7,7],[74.9,-2],[75.1,1.9],[75.3,-8.9],[75.5,3.6],[75.7,-4.9],[75.9,0],[76.1,6],[76.3,-10.8],[76.5,2.3],[76.7,-1.6],[76.9,-6.3],[77.1,4.8],[77.3,-3.2],[77.5,1],[77.7,-8.2],[77.9,5.9],[78.1,-0.9],[78.3,-4.5],[78.7,-12.1],[78.5,3],[78.9,1.6],[79.1,-6.8],[79.3,4.4],[79.5,-2.2],[79.7,-9.4],[79.9,2.1],
  [70.2,-2.6],[70.6,1.4],[71,-5.4],[71.4,4.2],[71.8,-1.6],[72.2,3.4],[72.6,-4.4],[73,0.2],[73.4,-7],[73.8,3.8],[74.2,-2.8],[74.6,1.6],[75,-5.8],[75.4,4.4],[75.8,-1],[76.2,-3.8],[76.6,0.8],[77,-6],[77.4,3],[77.8,-2.6],[78.2,1.8],[78.6,-5.2],[79,-0.4],[79.4,2.8],[79.8,-4.4],
  [80.3,-13.4],[80.1,0.5],[80.5,-5.1],[80.7,4],[80.9,-2.5],[81.1,-8],[81.4,-12.9],[81.6,2.8],[81.8,-0.9],[82,5.7],[82.2,-6.2],[82.4,1.2],[82.6,-3.6],[82.8,-9.7],[83,3.7],[83.2,-1.4],[83.4,6.1],[83.6,-5.4],[83.8,0.3],[84,-7.6],[84.2,2.6],[84.4,-2.9],[84.6,4.8],[84.8,-9],[85,-0.5],[85.2,2],[85.4,-4.8],[85.6,-7],[85.8,3.3],[86,-1.8],[86.2,5.2],[86.4,-3.5],[86.6,0.7],[86.8,-6.6],[87.2,-11],[87,2.4],[87.4,-2.3],[87.6,3.9],[87.8,-5],[88,0],[88.2,-8.3],[88.4,1.9],[88.6,-3],[88.8,4.6],[89,-0.8],[89.2,-5.9],[89.4,2.9],[89.6,-2],[89.8,-7.3],[89.9,0.9],
  [80.2,-2.8],[80.6,1.6],[81,-4.6],[81.4,0.4],[81.8,-6.6],[82.2,3.2],[82.6,-1.8],[83,-4],[83.4,1.4],[83.8,-2.6],[84.2,4],[84.6,-5.6],[85,1],[85.4,-1.4],[85.8,-4],[86.2,2.6],[86.6,-3],[87,0],[87.4,-5.4],[87.8,2],[88.2,-1.6],[88.6,-4.6],[89,1.4],[89.4,-3.4],[89.8,0.4],
  [90.1,-4.2],[90.3,3.2],[90.5,-1.2],[90.7,-6.1],[90.9,1.7],[91.1,-2.8],[91.3,4.1],[91.5,-5.2],[91.7,0.2],[91.9,-3.5],[92.1,2.6],[92.3,-7],[92.5,-0.8],[92.7,3.3],[92.9,-4.4],[93.1,1],[93.3,-2.1],[93.5,-5.6],[93.7,2.3],[93.9,-1],[94.1,-3.8],[94.3,1.8],[94.5,-0.3],[94.7,-5],[94.9,2.9],[95.1,-2.4],[95.3,0.6],[95.5,-4],[95.7,1.9],[95.9,-1.4],[96.1,-3],[96.3,1.2],[96.5,-0.5],[96.7,-2.2],[96.9,0.9],[97.1,-1.6],[97.3,0.3],[97.5,-3.2],[97.7,1.4],[97.9,-0.7],[98.1,0.6],[98.3,-1.9],[98.5,0],[98.7,0.8],[98.9,-1],[99.1,0.4],[99.3,-0.6],[99.5,0.2],[99.7,-0.2],[99.9,0],
  [90.2,-1.8],[90.6,1],[91,-3.6],[91.4,0.4],[91.8,-2],[92.2,1.8],[92.6,-4.6],[93,-0.6],[93.4,1.6],[93.8,-2.8],[94.2,0],[94.6,-1.8],[95,1.2],[95.4,-3],[95.8,0],[96.2,-1.2],[96.6,0.8],[97,-2.4],[97.4,0.4],[97.8,-1],[98.2,0.2],[98.6,-0.8],[99,0],[99.4,-0.4],[99.8,0.1]
];

// ---- axis ticks and labels
var starLabels = ['1', '2', '3', '4', '5'];
// star-band boundaries on the rank axes (current spec, in current centile units)
var currentCuts = [-3.26, 9.3, 35.05, 66.3, 89.7, 101.9];
// star-band boundaries on the alternative-spec rank axes (alternative centile units)
var altCutsExt = [-8.45, 2.62, 19.57, 49.63, 81.72, 113.95];
var altCutsFact = [-1.67, 9.45, 26.49, 56.69, 88.94, 121.33];
var altCutsEqual = [-4.53, 6.53, 23.49, 53.55, 85.64, 117.87];
var centileTicks = [0, 10, 20, 30, 40, 50, 60, 70, 80, 90, 100];
var upperBound = [[0, 100], [100, 0]];
var lowerBound = [[0, 0], [100, -100]];
var midCentile = [[50, -100], [50, 100]];

var panelTitles = [
  'Alternative standardization (external reference)',
  'Alternative domain grouping (factor analysis)',
  'Alternative domain weights (equal weights)'
];

// ---- styles
var INK = '#000';
var POINT = 'rgba(38,96,96,0.62)';
var BOUND = '#2b5757';
var GRIDC = '#d9d9d9';
var NARROW = '"DejaVu Sans Condensed", "Liberation Sans Narrow", "Roboto Condensed", sans-serif';
var WIDE = '"DejaVu Sans", Verdana, sans-serif';

var rowTop = [229.8, 1500.5, 2771.2];
var rowStep = 1270.7;
var rowH = 877;

function mids(cuts) {
    return cuts.slice(1).map(function (v, i) { return (v + cuts[i]) / 2; });
}
function starFormatter(cuts) {
    var m = mids(cuts);
    return function (v) {
        var k = 0;
        m.forEach(function (x, i) { if (Math.abs(x - v) < Math.abs(m[k] - v)) k = i; });
        return starLabels[k];
    };
}

var axisLine = { show: true, onZero: false, lineStyle: { color: INK, width: 2.5 } };
function tick(custom) {
    var t = { show: true, inside: false, length: 16, lineStyle: { color: INK, width: 2.5 } };
    if (custom) t.customValues = custom;
    return t;
}
function label(margin, custom, fmt) {
    var l = { color: INK, fontFamily: NARROW, fontSize: 48, margin: margin };
    if (custom) l.customValues = custom;
    if (fmt) l.formatter = fmt;
    return l;
}
var gridLine = { show: true, lineStyle: { color: GRIDC, width: 4 } };

var specs = [
    { pts: extPoints, alt: altCutsExt },
    { pts: factPoints, alt: altCutsFact },
    { pts: equalPoints, alt: altCutsEqual }
];

var grid = [], xAxis = [], yAxis = [], series = [], graphic = [];

function scatter(gi, data) {
    return {
        type: 'scatter', xAxisIndex: gi, yAxisIndex: gi, data: data,
        symbol: 'circle', symbolSize: 18, silent: true, clip: false, z: 2,
        itemStyle: { color: 'rgba(0,0,0,0)', borderColor: POINT, borderWidth: 3.6 }
    };
}
function line(gi, data, style) {
    return {
        type: 'line', xAxisIndex: gi, yAxisIndex: gi, data: data, symbol: 'none',
        silent: true, z: 3, lineStyle: style
    };
}
function text(x, y, str, family, size, weight, rot, lh) {
    return {
        type: 'text', x: x, y: y, rotation: rot, silent: true,
        style: {
            text: str, fontFamily: family, fontSize: size, fontWeight: weight, fill: INK,
            align: 'center', verticalAlign: 'middle', textAlign: 'center', textVerticalAlign: 'middle',
            lineHeight: lh || size * 1.2
        }
    };
}

specs.forEach(function (s, r) {
    var a = grid.length, b = a + 1;
    // column A: rank order under current vs alternative spec
    grid.push({ left: 207, top: rowTop[r], width: 1666, height: rowH });
    xAxis.push({
        type: 'value', gridIndex: a, min: currentCuts[0], max: currentCuts[5],
        axisLine: axisLine, axisTick: tick(currentCuts),
        axisLabel: label(27, mids(currentCuts), starFormatter(currentCuts)),
        splitLine: { show: false }
    });
    yAxis.push({
        type: 'value', gridIndex: a, min: s.alt[0], max: s.alt[5],
        axisLine: axisLine, axisTick: tick(s.alt),
        axisLabel: label(27, mids(s.alt), starFormatter(s.alt)),
        splitLine: gridLine
    });
    series.push(scatter(a, s.pts.map(function (p) { return [p[0], p[0] + p[1]]; })));

    // column B: centile change vs current centile
    grid.push({ left: 2355, top: rowTop[r], width: 1489, height: rowH });
    xAxis.push({
        type: 'value', gridIndex: b, min: -3.5, max: 100,
        axisLine: axisLine, axisTick: tick(centileTicks),
        axisLabel: label(27, centileTicks),
        splitLine: { show: false }
    });
    yAxis.push({
        type: 'value', gridIndex: b, min: -100, max: 100, interval: 50,
        axisLine: axisLine, axisTick: tick(),
        axisLabel: label(30),
        splitLine: gridLine
    });
    series.push(scatter(b, s.pts));
    series.push(line(b, upperBound, { color: BOUND, width: 4 }));
    series.push(line(b, lowerBound, { color: BOUND, width: 4 }));
    series.push(line(b, midCentile, { color: '#19e3f2', width: 3.5, type: [4, 5] }));

    var dy = r * rowStep;
    graphic.push(text(1025, 194 + dy, panelTitles[r], NARROW, 44, 'bold', 0));
    graphic.push(text(3033, 194 + dy, panelTitles[r], NARROW, 44, 'bold', 0));
    graphic.push(text(1022, 1272 + dy, 'Star rating and rank order under\ncurrent (2021) CMS specification', NARROW, 48, 'normal', 0, 64));
    graphic.push(text(3126, 1272 + dy, 'Centile under current (2021)\nCMS specification', NARROW, 48, 'normal', 0, 64));
    graphic.push(text(62, 596 + dy, 'Star rating and rank order under\neach alternative specification', WIDE, 43, 'normal', Math.PI / 2, 63));
    graphic.push(text(2106, 740 + dy, 'Centile under alternative specification\nminus centile under current (2021)\nCMS specification', WIDE, 43, 'normal', Math.PI / 2, 63.5));
});

function header(x, letter, caption) {
    graphic.push({ type: 'rect', silent: true, shape: { x: x, y: 55, width: 66, height: 66 },
        style: { fill: 'none', stroke: INK, lineWidth: 2.5 } });
    graphic.push(text(x + 33, 89, letter, NARROW, 46, 'bold', 0));
    graphic.push({ type: 'text', x: x + 96, y: 88, silent: true,
        style: { text: caption, fontFamily: NARROW, fontSize: 50, fill: INK,
            align: 'left', verticalAlign: 'middle', textAlign: 'left', textVerticalAlign: 'middle' } });
}
header(6, 'A', 'Comparison of rating and ranks');
header(2016, 'B', 'Centile change vs current centile');

var chart = echarts.init(document.getElementById('chart'), null, { renderer: 'svg' });
chart.setOption({
    animation: false,
    backgroundColor: '#fff',
    grid: grid,
    xAxis: xAxis,
    yAxis: yAxis,
    series: series,
    graphic: graphic
});
</script>
</body>
</html>
